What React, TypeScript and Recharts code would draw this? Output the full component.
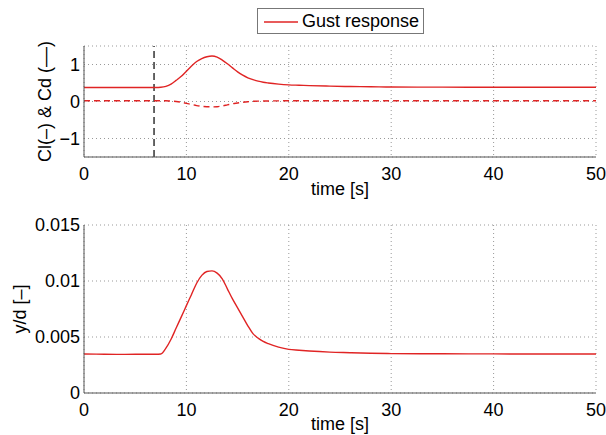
import React from 'react';
import { LineChart, Line, XAxis, YAxis, CartesianGrid, ReferenceLine, Legend } from 'recharts';

const timeValues = [0, 2, 4, 6, 7, 7.5, 8, 8.5, 9, 9.5, 10, 10.5, 11, 11.5, 12, 12.5, 13, 13.5, 14, 14.5, 15, 15.5, 16, 16.5, 17, 17.5, 18, 19, 20, 21, 22, 24, 26, 28, 30, 35, 40, 45, 50];
const clValues = [0.38, 0.38, 0.38, 0.38, 0.38, 0.385, 0.41, 0.47, 0.57, 0.68, 0.82, 0.96, 1.08, 1.16, 1.21, 1.23, 1.2, 1.12, 1.02, 0.91, 0.8, 0.71, 0.64, 0.59, 0.55, 0.52, 0.5, 0.47, 0.45, 0.44, 0.43, 0.415, 0.405, 0.4, 0.39, 0.388, 0.386, 0.385, 0.385];
const cdValues = [0.02, 0.02, 0.02, 0.02, 0.02, 0.02, 0.02, 0.01, 0.0, -0.02, -0.05, -0.08, -0.11, -0.13, -0.14, -0.145, -0.14, -0.12, -0.09, -0.06, -0.04, -0.02, -0.005, 0.005, 0.01, 0.012, 0.015, 0.018, 0.02, 0.02, 0.02, 0.02, 0.02, 0.02, 0.02, 0.02, 0.02, 0.02, 0.02];
const ydValues = [0.00348, 0.00346, 0.00345, 0.00346, 0.00346, 0.00348, 0.004, 0.0048, 0.0058, 0.0068, 0.0078, 0.0088, 0.0098, 0.0105, 0.01085, 0.0109, 0.0107, 0.0102, 0.0093, 0.0084, 0.0076, 0.0068, 0.006, 0.0053, 0.0049, 0.0046, 0.0044, 0.0041, 0.0039, 0.00382, 0.00375, 0.00365, 0.0036, 0.00355, 0.00352, 0.0035, 0.00349, 0.00348, 0.00348];

const xTicks = [0, 10, 20, 30, 40, 50];
const forceTicks = [-1, 0, 1];
const dispTicks = [0, 0.005, 0.01, 0.015];
const gustStart = 6.84;
const legendLabel = 'Gust response';
const forceLabel = 'Cl(–) & Cd (––)';
const dispLabel = 'y/d [–]';
const timeLabel = 'time [s]';

const forceData = timeValues.map((t, i) => ({ t, cl: clValues[i], cd: cdValues[i] }));
const dispData = timeValues.map((t, i) => ({ t, yd: ydValues[i] }));

const RED = '#e02424';
const FONT = '"Liberation Sans", Arial, Helvetica, sans-serif';
const tickStyle = { fill: '#000', fontSize: 18, fontFamily: FONT };
const AXIS = '#555';

const fmtMinus = (v: number) => (v < 0 ? '\u2212' + Math.abs(v) : String(v));

const YTitle = (props: any) => {
  const { viewBox, value, cx } = props;
  const y = viewBox.y + viewBox.height / 2;
  return (
    <text x={cx} y={y} transform={`rotate(-90, ${cx}, ${y})`} textAnchor="middle" dominantBaseline="central" fill="#000" fontSize={18} fontFamily={FONT}>
      {value}
    </text>
  );
};

const LegendBox = () => (
  <div style={{ width: 165, height: 24, border: '1px solid #777', background: '#fff', display: 'flex', alignItems: 'center', boxSizing: 'content-box', fontFamily: FONT, fontSize: 18, color: '#000' }}>
    <svg width={44} height={24} style={{ flex: 'none' }}>
      <line x1={6} x2={40} y1={13} y2={13} stroke={RED} strokeWidth={1.3} />
    </svg>
    <span style={{ whiteSpace: 'nowrap', lineHeight: '24px' }}>{legendLabel}</span>
  </div>
);

export default function App() {
  return (
    <div style={{ position: 'absolute', left: 0, top: 0, width: 606, height: 435, background: '#fff' }}>
      <div style={{ position: 'absolute', left: 0, top: 0 }}>
        <LineChart width={606} height={200} data={forceData} margin={{ top: 46, right: 10, bottom: 0, left: 0 }}>
          <CartesianGrid stroke="#999" strokeDasharray="1 3" ticks={undefined} />
          <XAxis dataKey="t" type="number" domain={[0, 50]} ticks={xTicks} height={43} stroke={AXIS} tickLine={false} tickSize={0} tickMargin={10} tick={tickStyle} interval={0}
            label={{ value: timeLabel, position: 'insideBottom', offset: 5, fill: '#000', fontSize: 18, fontFamily: FONT }} />
          <YAxis type="number" domain={[-1.5, 1.5]} ticks={forceTicks} width={84} stroke={AXIS} tickLine={false} tickSize={0} tickMargin={4} tick={tickStyle} tickFormatter={fmtMinus} interval={0}
            label={(p: any) => <YTitle {...p} value={forceLabel} cx={45} />} />
          <ReferenceLine x={gustStart} stroke="#333" strokeWidth={1.5} strokeDasharray="7 4" />
          <Line type="monotone" dataKey="cl" stroke={RED} strokeWidth={1.4} dot={false} isAnimationActive={false} />
          <Line type="monotone" dataKey="cd" stroke={RED} strokeWidth={1.4} strokeDasharray="6 4" dot={false} isAnimationActive={false} />
          <Legend layout="horizontal" verticalAlign="middle" align="center" content={() => <LegendBox />}
            wrapperStyle={{ position: 'absolute', top: 8, left: 257, width: 167, height: 26 }} />
        </LineChart>
      </div>
      <div style={{ position: 'absolute', left: 0, top: 200 }}>
        <LineChart width={606} height={235} data={dispData} margin={{ top: 25, right: 10, bottom: 0, left: 0 }}>
          <CartesianGrid stroke="#999" strokeDasharray="1 3" />
          <XAxis dataKey="t" type="number" domain={[0, 50]} ticks={xTicks} height={42} stroke={AXIS} tickLine={false} tickSize={0} tickMargin={10} tick={tickStyle} interval={0}
            label={{ value: timeLabel, position: 'insideBottom', offset: 5, fill: '#000', fontSize: 18, fontFamily: FONT }} />
          <YAxis type="number" domain={[0, 0.015]} ticks={dispTicks} width={84} stroke={AXIS} tickLine={false} tickSize={0} tickMargin={4} tick={tickStyle} interval={0}
            label={(p: any) => <YTitle {...p} value={dispLabel} cx={20} />} />
          <Line type="monotone" dataKey="yd" stroke={RED} strokeWidth={1.4} dot={false} isAnimationActive={false} />
        </LineChart>
      </div>
    </div>
  );
}
